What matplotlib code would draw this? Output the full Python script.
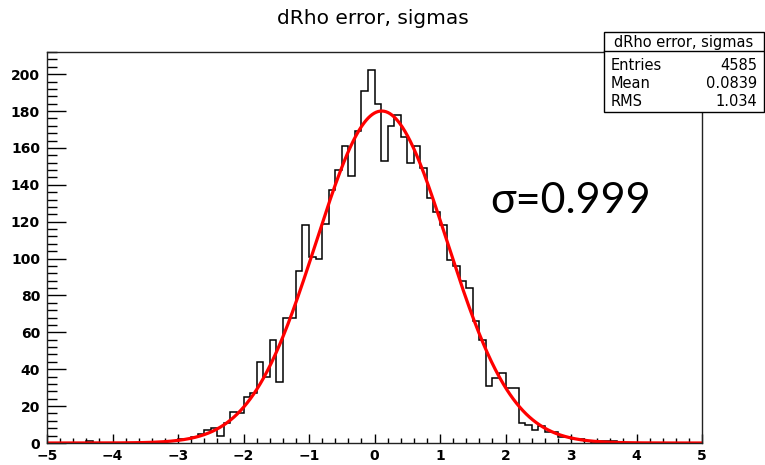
import numpy as np
import matplotlib
matplotlib.use("Agg")
import matplotlib.pyplot as plt
from matplotlib.ticker import MultipleLocator
from matplotlib.patches import Rectangle
from matplotlib.lines import Line2D

# ---- data -------------------------------------------------------------
x_range = (-5.0, 5.0)
n_bins = 100
# bin contents, 100 bins of width 0.1 from -5 to 5 (10 bins per row)
counts = [
    0, 0, 0, 0, 0, 0, 1, 0, 0, 0,            # -5.0 .. -4.0
    0, 0, 0, 0, 0, 0, 0, 0, 1, 1,            # -4.0 .. -3.0
    2, 2, 3, 5, 7, 8, 4, 11, 17, 16,         # -3.0 .. -2.0
    25, 27, 44, 36, 56, 33, 68, 68, 93, 118, # -2.0 .. -1.0
    101, 100, 119, 137, 148, 161, 145, 169, 191, 202,  # -1.0 .. 0.0
    184, 153, 172, 178, 166, 152, 161, 149, 133, 125,  # 0.0 .. 1.0
    118, 99, 96, 88, 84, 66, 56, 31, 35, 38,           # 1.0 .. 2.0
    30, 30, 11, 10, 7, 9, 6, 6, 3, 3,                  # 2.0 .. 3.0
    2, 2, 1, 0, 1, 1, 1, 0, 0, 0,                      # 3.0 .. 4.0
    0, 0, 0, 0, 0, 0, 0, 0, 0, 0,                      # 4.0 .. 5.0
]
fit_const = 180.0
fit_mean = 0.11
fit_sigma = 0.999

title = "dRho error, sigmas"
stat_labels = ["Entries", "Mean", "RMS"]
stat_values = ["4585", "0.0839", "1.034"]
annotation = "\u03c3=0.999"

# ---- figure -----------------------------------------------------------
W, H = 765, 465
fig = plt.figure(figsize=(W / 100, H / 100), dpi=100)
fig.patch.set_facecolor("white")

left_px, right_px, top_px, bottom_px = 47, 702, 52, 443
ax = fig.add_axes([left_px / W, 1 - bottom_px / H,
                   (right_px - left_px) / W, (bottom_px - top_px) / H])

edges = np.linspace(x_range[0], x_range[1], n_bins + 1)
ax.stairs(counts, edges, color="black", linewidth=1.1, baseline=0)

xf = np.linspace(x_range[0], x_range[1], 1000)
yf = fit_const * np.exp(-0.5 * ((xf - fit_mean) / fit_sigma) ** 2)
ax.plot(xf, yf, color="#ff0000", linewidth=2.3)

ax.set_xlim(*x_range)
ax.set_ylim(0, 212)

font = "DejaVu Sans"
ax.xaxis.set_major_locator(MultipleLocator(1))
ax.xaxis.set_minor_locator(MultipleLocator(0.2))
ax.yaxis.set_major_locator(MultipleLocator(20))
ax.yaxis.set_minor_locator(MultipleLocator(4))
ax.tick_params(axis="x", which="major", direction="in", length=6.5, width=1.0,
               pad=4, labelsize=10, top=False)
ax.tick_params(axis="x", which="minor", direction="in", length=3.3, width=1.0, top=False)
ax.tick_params(axis="y", which="major", direction="in", length=14, width=1.0,
               pad=5, labelsize=10, right=False)
ax.tick_params(axis="y", which="minor", direction="in", length=7, width=1.0, right=False)
ax.set_xticks(np.arange(-5, 6, 1))
ax.set_xticklabels([("\u2212%d" % -v) if v < 0 else "%d" % v for v in range(-5, 6)])
for lab in ax.get_xticklabels() + ax.get_yticklabels():
    lab.set_fontfamily(font)
    lab.set_fontweight("bold")
for s in ax.spines.values():
    s.set_linewidth(1.0)
    s.set_color("#222222")

fig.text(373 / W, 1 - 18 / H, title, ha="center", va="center",
         fontsize=14.5, family=font)

ax.text(0.676, 0.588, annotation, transform=ax.transAxes, ha="left",
        va="baseline", fontsize=31, family="Lato")

# ---- stat box ---------------------------------------------------------
bx0, bx1, by0, by1, byh = 604, 764, 32, 112, 51
fig.add_artist(Rectangle((bx0 / W, 1 - by1 / H), (bx1 - bx0) / W, (by1 - by0) / H,
                         transform=fig.transFigure, facecolor="white",
                         edgecolor="black", linewidth=1.0, zorder=5))
fig.add_artist(Line2D([bx0 / W, bx1 / W], [1 - byh / H, 1 - byh / H],
                      transform=fig.transFigure, color="black", linewidth=1.0, zorder=6))
fig.text(684 / W, 1 - 42 / H, title, ha="center", va="center",
         fontsize=10.5, family=font, zorder=7)
row_y = [65, 83, 101]
for lab, val, yy in zip(stat_labels, stat_values, row_y):
    fig.text(611 / W, 1 - yy / H, lab, ha="left", va="center", fontsize=10.5,
             family=font, zorder=7)
    fig.text(757 / W, 1 - yy / H, val, ha="right", va="center", fontsize=10.5,
             family=font, zorder=7)

fig.savefig("out.png", dpi=100, facecolor="white")
